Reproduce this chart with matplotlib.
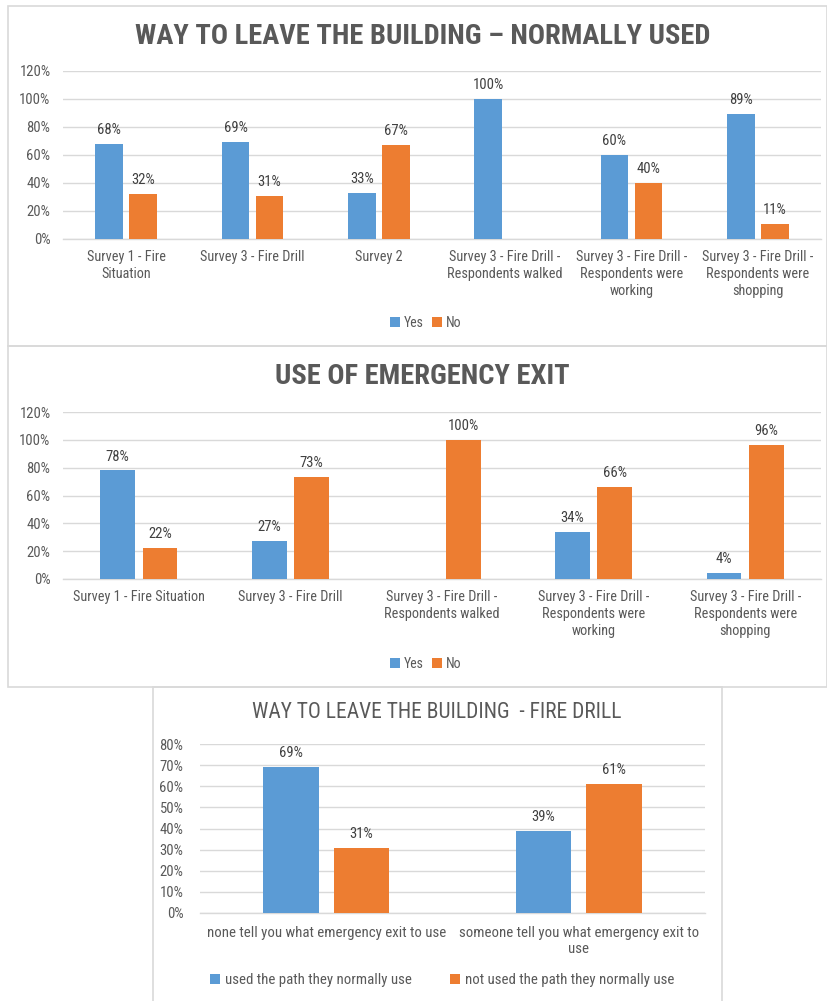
import os
import matplotlib
matplotlib.use("Agg")
import matplotlib.pyplot as plt
from matplotlib import font_manager
from matplotlib.patches import Rectangle, Patch
import numpy as np

# pick a narrow sans font if one is installed
prefs = ["liberationsansnarrow-regular", "robotocondensed-regular", "notosans-condensed.",
         "opensans-condensed", "opensans_condensed-regular", "dejavusanscondensed."]
FONT = None
found = ""
for p in prefs:
    for f in font_manager.fontManager.ttflist:
        if os.path.basename(f.fname).lower().startswith(p):
            FONT = f.name
            found = p
            break
    if FONT:
        break
if FONT is None:
    FONT = "Liberation Sans"
plt.rcParams['font.family'] = [FONT, 'Liberation Sans', 'DejaVu Sans']
if found.startswith("dejavusanscondensed") or found.startswith("notosans-condensed"):
    plt.rcParams['font.stretch'] = 'condensed'
NARROW = found != ""
K = 1.0 if NARROW else 0.88

BLUE = "#5B9BD5"
ORANGE = "#ED7D31"
GRID = "#D9D9D9"
TXT = "#595959"
LBL = "#404040"

# ---- data ----
cats1 = ["Survey 1 - Fire\nSituation", "Survey 3 - Fire Drill", "Survey 2",
         "Survey 3 - Fire Drill -\nRespondents walked",
         "Survey 3 - Fire Drill -\nRespondents were\nworking",
         "Survey 3 - Fire Drill -\nRespondents were\nshopping"]
yes1 = [68, 69, 33, 100, 60, 89]
no1 = [32, 31, 67, 0, 40, 11]

cats2 = ["Survey 1 - Fire Situation", "Survey 3 - Fire Drill",
         "Survey 3 - Fire Drill -\nRespondents walked",
         "Survey 3 - Fire Drill -\nRespondents were\nworking",
         "Survey 3 - Fire Drill -\nRespondents were\nshopping"]
yes2 = [78, 27, 0, 34, 4]
no2 = [22, 73, 100, 66, 96]

cats3 = ["none tell you what emergency exit to use",
         "someone tell you what emergency exit to\nuse"]
used3 = [69, 39]
notused3 = [31, 61]

titles = ["WAY TO LEAVE THE BUILDING \u2013 NORMALLY USED",
          "USE OF EMERGENCY EXIT",
          "WAY TO LEAVE THE BUILDING  - FIRE DRILL"]
legend12 = ["Yes", "No"]
legend3 = ["used the path they normally use", "not used the path they normally use"]

W, H = 828, 1001
fig = plt.figure(figsize=(W / 100, H / 100), dpi=100)


def fx(px):
    return px / W


def fy(py):
    return 1 - py / H


# panel borders
for (x0, y0, x1, y1) in [(8, 6, 827, 346), (8, 346, 827, 687), (153, 687, 722, 1005)]:
    fig.patches.append(Rectangle((fx(x0), fy(y1)), fx(x1) - fx(x0), fy(y0) - fy(y1),
                                 transform=fig.transFigure, fill=False,
                                 edgecolor=GRID, linewidth=1.2, zorder=0))


def make_axes(l, r, top, bot):
    return fig.add_axes([fx(l), fy(bot), fx(r) - fx(l), fy(top) - fy(bot)])


def draw(ax, cats, a, b, ymax, step, w, gap, fs_tick, fs_lbl, fs_val, pad, xpad):
    x = np.arange(len(cats))
    off = (w + gap) / 2
    av = np.array(a) / 100
    bv = np.array(b) / 100
    ax.bar(x - off, av, w, color=BLUE, zorder=3)
    ax.bar(x + off, bv, w, color=ORANGE, zorder=3)
    for xs, vals in [(x - off, a), (x + off, b)]:
        for xi, v in zip(xs, vals):
            if v > 0:
                ax.annotate(f"{v}%", (xi, v / 100), xytext=(0, 5),
                            textcoords="offset points", ha="center", va="bottom",
                            fontsize=fs_val, color=LBL)
    ax.set_xlim(-0.5, len(cats) - 0.5)
    ax.set_ylim(0, ymax)
    ticks = np.arange(0, ymax + 1e-9, step)
    ax.set_yticks(ticks)
    ax.set_yticklabels([f"{int(round(t * 100))}%" for t in ticks])
    ax.set_xticks(x)
    ax.set_xticklabels(cats, linespacing=1.25)
    ax.tick_params(axis="both", length=0, colors=TXT)
    ax.tick_params(axis="y", labelsize=fs_tick, pad=pad)
    ax.tick_params(axis="x", labelsize=fs_lbl, pad=xpad)
    ax.grid(axis="y", color=GRID, linewidth=1, zorder=0)
    for s in ["top", "right", "left"]:
        ax.spines[s].set_visible(False)
    ax.spines["bottom"].set_color(GRID)
    ax.spines["bottom"].set_linewidth(1)


ax1 = make_axes(63, 821, 71, 239)
draw(ax1, cats1, yes1, no1, 1.2, 0.2, 0.22, 0.05, 10.5 * K, 10.3 * K, 10.5 * K, 9, 8)
ax2 = make_axes(63, 821, 412, 579)
draw(ax2, cats2, yes2, no2, 1.2, 0.2, 0.23, 0.05, 10.5 * K, 10.3 * K, 10.5 * K, 9, 8)
ax3 = make_axes(200, 705, 744, 913)
draw(ax3, cats3, used3, notused3, 0.8, 0.1, 0.22, 0.06, 10.5 * K, 10.7 * K, 10.5 * K, 12, 9)

fig.text(fx(423), fy(37), titles[0], ha="center", va="center", fontsize=20.5 * K,
         fontweight="bold", color=TXT)
fig.text(fx(422), fy(377), titles[1], ha="center", va="center", fontsize=20.5 * K,
         fontweight="bold", color=TXT)
fig.text(fx(437), fy(712), titles[2], ha="center", va="center", fontsize=15.5 * K,
         color=TXT)


def legend(labels, cx, cy, colsp, fs):
    handles = [Patch(facecolor=BLUE), Patch(facecolor=ORANGE)]
    fig.legend(handles, labels, loc="center", bbox_to_anchor=(fx(cx), fy(cy)),
               ncol=2, frameon=False, fontsize=fs, labelcolor=TXT,
               handlelength=0.7, handleheight=0.7, handletextpad=0.3,
               columnspacing=colsp)


legend(legend12, 426, 323, 0.6, 10 * K)
legend(legend12, 426, 664, 0.6, 10 * K)
legend(legend3, 442, 980, 2.6, 10.7 * K)

fig.savefig("out.png", dpi=100, facecolor="white")
